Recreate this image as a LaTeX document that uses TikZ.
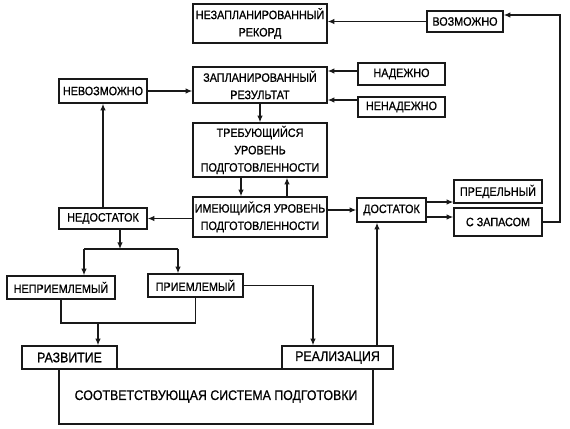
\documentclass[tikz,border=0pt]{standalone}
\usepackage{fontspec}
\setmainfont{Liberation Sans}[FakeStretch=0.89,FakeBold=0.8]
\usepackage{xcolor}
\usetikzlibrary{arrows.meta}
\definecolor{ink}{RGB}{25, 25, 25}

\begin{document}
\begin{tikzpicture}[x=0.75pt,y=-0.75pt,
  box/.style={draw=ink,line width=1.1pt,inner sep=1pt,align=center,
    font=\fontsize{9.1}{13}\selectfont},
  bigbox/.style={box,font=\fontsize{10.4}{13}\selectfont},
  arr/.style={ink,line width=0.9pt,-{Latex[length=5pt,width=4.2pt]}},
  ln/.style={ink,line width=0.9pt}]
\useasboundingbox (0,0) rectangle (570,428);
% boxes
\node[box,minimum width=100.5pt,minimum height=29.25pt] (rec) at (260,23.5) {НЕЗАПЛАНИРОВАННЫЙ\\РЕКОРД};
\node[box,minimum width=57pt,minimum height=15.75pt] (voz) at (465,21.5) {ВОЗМОЖНО};
\node[box,minimum width=100.5pt,minimum height=27pt] (res) at (260,85) {ЗАПЛАНИРОВАННЫЙ\\РЕЗУЛЬТАТ};
\node[box,minimum width=65.25pt,minimum height=16.5pt] (nad) at (401.5,74) {НАДЕЖНО};
\node[box,minimum width=65.25pt,minimum height=15pt] (nenad) at (401.5,107) {НЕНАДЕЖНО};
\node[box,minimum width=66pt,minimum height=18pt] (nevoz) at (103,91) {НЕВОЗМОЖНО};
\node[box,minimum width=100.5pt,minimum height=40.5pt] (treb) at (260,150) {ТРЕБУЮЩИЙСЯ\\УРОВЕНЬ\\ПОДГОТОВЛЕННОСТИ};
\node[box,minimum width=100.5pt,minimum height=30pt] (im) at (260,217) {ИМЕЮЩИЙСЯ УРОВЕНЬ\\ПОДГОТОВЛЕННОСТИ};
\node[box,minimum width=66pt,minimum height=15.75pt] (nedos) at (103,218.5) {НЕДОСТАТОК};
\node[box,minimum width=51.75pt,minimum height=18pt] (dos) at (391.5,210) {ДОСТАТОК};
\node[box,minimum width=66pt,minimum height=17.25pt] (pred) at (498,191.5) {ПРЕДЕЛЬНЫЙ};
\node[box,minimum width=66pt,minimum height=21pt] (zap) at (498,222) {С ЗАПАСОМ};
\node[box,minimum width=81pt,minimum height=17.25pt] (nepr) at (61,287.5) {НЕПРИЕМЛЕМЫЙ};
\node[box,minimum width=71.25pt,minimum height=17.25pt] (pr) at (195.5,285.5) {ПРИЕМЛЕМЫЙ};
\node[bigbox,minimum width=235.5pt,minimum height=41.25pt] (sys) at (216,396.5) {СООТВЕТСТВУЮЩАЯ СИСТЕМА ПОДГОТОВКИ};
\node[bigbox,minimum width=71.25pt,minimum height=17.25pt] (razv) at (69.5,357.5) {РАЗВИТИЕ};
\node[bigbox,minimum width=83.25pt,minimum height=17.25pt] (real) at (337.5,357.5) {РЕАЛИЗАЦИЯ};
% helper points
\coordinate (corner) at (560,15);
\coordinate (split) at (120,249);
\coordinate (sl) at (84,249);
\coordinate (sr) at (178,249);
\coordinate (merge) at (98,323);
\coordinate (down) at (313,0);
\coordinate (up) at (377,0);
\coordinate (predin) at (0,202);
\coordinate (zapin) at (0,217);
\coordinate (nadin) at (0,71);
\coordinate (nenadin) at (0,100);
% connectors
\draw[arr] (voz.west) -- (voz.west -| rec.east);
\draw[arr] (zap.east) -| (corner) -- (corner -| voz.east);
\draw[arr] (nad.west |- nadin) -- (res.east |- nadin);
\draw[arr] (nenad.west |- nenadin) -- (res.east |- nenadin);
\draw[arr] (res.south) -- (treb.north);
\draw[arr] ([xshift=-14.25pt]treb.south) -- ([xshift=-14.25pt]im.north);
\draw[arr] ([xshift=20.25pt]im.north) -- ([xshift=20.25pt]treb.south);
\draw[arr] (im.west |- nedos.east) -- (nedos.east);
\draw[arr] (im.east |- dos.west) -- (dos.west);
\draw[arr] (nedos.north) -- (nevoz.south);
\draw[arr] (nevoz.east) -- (nevoz.east -| res.west);
\draw[arr] (split |- nedos.south) -- (split);
\draw[ln] (sl) -- (sr);
\draw[arr] (sl) -- (sl |- nepr.north);
\draw[arr] (sr) -- (sr |- pr.north);
\draw[ln] (nepr.south) |- (merge) -| (pr.south);
\draw[arr] (merge) -- (merge |- razv.north);
\draw[arr] (pr.east) -| (down |- real.north);
\draw[arr] (up |- real.north) -- (up |- dos.south);
\draw[arr] (dos.east |- predin) -- (pred.west |- predin);
\draw[arr] (dos.east |- zapin) -- (zap.west |- zapin);
\end{tikzpicture}
\end{document}
